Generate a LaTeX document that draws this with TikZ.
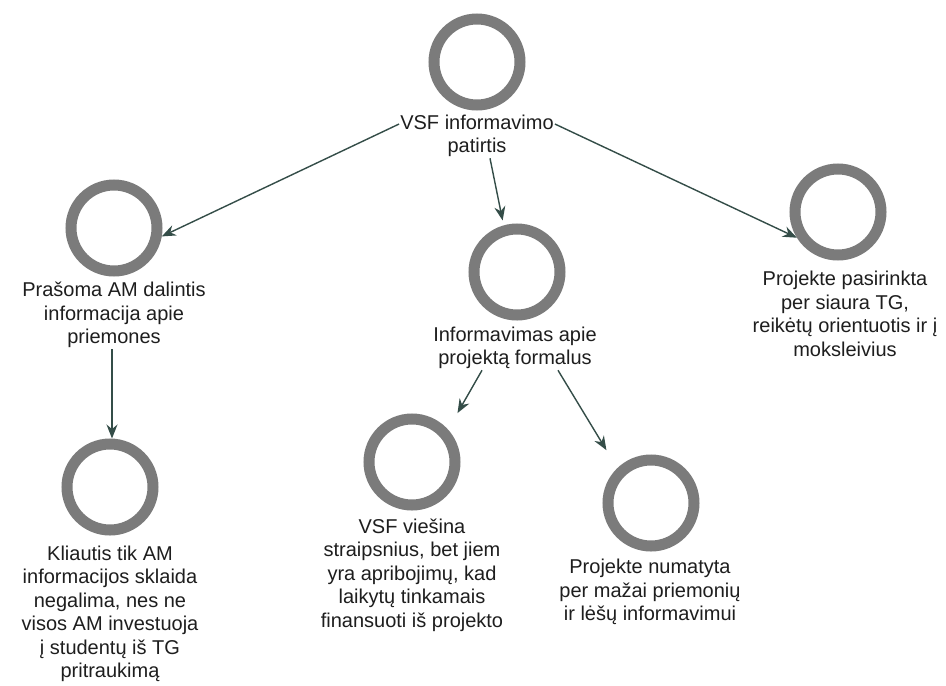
\documentclass[tikz,border=0pt]{standalone}
\usepackage{fontspec}
\setmainfont{Liberation Sans}
\usetikzlibrary{arrows.meta}
\definecolor{ringgray}{HTML}{7B7B7B}
\definecolor{arrowcol}{HTML}{344D48}
\definecolor{txtcol}{HTML}{1E1E1E}
\begin{document}
\begin{tikzpicture}[x=1pt,y=-1pt,
  ring/.style={circle,draw=ringgray,line width=11pt,minimum size=86pt,inner sep=0pt},
  lbl/.style={align=center,text=txtcol,inner sep=1pt,font=\fontsize{20}{23.5}\selectfont},
  conn/.style={draw=arrowcol,line width=1.4pt,-{Stealth[length=14pt,width=11pt]}}]
\useasboundingbox[fill=white] (0,0) rectangle (946,686);
% circles
\node[ring] (c1) at (477,62) {};
\node[ring] (c2) at (114,228) {};
\node[ring] (c3) at (838,212) {};
\node[ring] (c4) at (517,272) {};
\node[ring] (c5) at (110,487) {};
\node[ring] (c6) at (412,462) {};
\node[ring] (c7) at (651,503) {};
% labels
\node[lbl] (t1) at (477,136) {VSF informavimo\\patirtis};
\node[lbl] (t2) at (114,315) {Prašoma AM dalintis\\informacija apie\\priemones};
\node[lbl] (t3) at (845,314) {Projekte pasirinkta\\per siaura TG,\\reikėtų orientuotis ir į\\moksleivius};
\node[lbl] (t4) at (515,348) {Informavimas apie\\projektą formalus};
\node[lbl] (t5) at (110,614) {Kliautis tik AM\\informacijos sklaida\\negalima, nes ne\\visos AM investuoja\\į studentų iš TG\\pritraukimą};
\node[lbl] (t6) at (412,575) {VSF viešina\\straipsnius, bet jiem\\yra apribojimų, kad\\laikytų tinkamais\\finansuoti iš projekto};
\node[lbl] (t7) at (650,592) {Projekte numatyta\\per mažai priemonių\\ir lėšų informavimui};
% connectors
\draw[conn] ([yshift=12pt]t1.west) -- (c2.-10);
\draw[conn] ([yshift=12pt]t1.east) -- (c3.212);
\draw[conn,shorten >=5pt] ([xshift=13pt]t1.south) -- (c4.106);
\draw[conn] ([xshift=-2pt]t2.south) -- ([xshift=2pt]c5.north);
\draw[conn,shorten >=19pt] ([xshift=-33pt]t4.south) -- (c6.42);
\draw[conn,shorten >=21pt] ([xshift=43pt]t4.south) -- (c7.134);
\end{tikzpicture}
\end{document}
